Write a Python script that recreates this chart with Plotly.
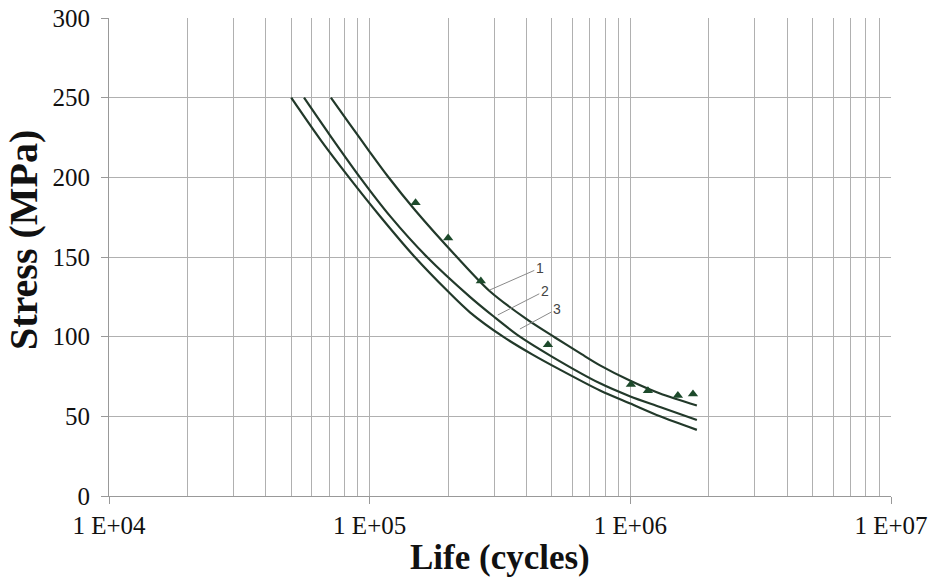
import plotly.graph_objects as go
import math

# Curve 1 (upper)
c1_x = [71000, 84000, 100000, 117500, 150000, 216000, 289000, 400000, 514000, 650000, 765000, 1000000, 1300000, 1800000]
c1_y = [250, 233.3, 216, 200.5, 179, 150, 128.5, 111, 99.5, 89, 82, 72.3, 64.3, 56.8]
# Curve 2 (middle)
c2_x = [56000, 70000, 91800, 120000, 166000, 242500, 300000, 377000, 500000, 765000, 1000000, 1300000, 1800000]
c2_y = [250, 227, 200, 175.5, 150, 125, 112.5, 100, 87.5, 70.7, 62.5, 55.9, 47.7]
# Curve 3 (lower)
c3_x = [50000, 65000, 83300, 110000, 149000, 200000, 242500, 325000, 420000, 537000, 765000, 1000000, 1300000, 1800000]
c3_y = [250, 223.2, 200, 175.3, 150, 128.3, 115.3, 100, 88.9, 79.3, 66.2, 58, 50, 41.5]
# Test points
pts_x = [150000, 200000, 267000, 483000, 1005000, 1168000, 1522000, 1739000]
pts_y = [184, 162, 135, 95, 70, 66, 63, 64]

x_tickvals = [1e4, 1e5, 1e6, 1e7]
x_ticktext = ["1 E+04", "1 E+05", "1 E+06", "1 E+07"]
y_tickvals = [0, 50, 100, 150, 200, 250, 300]

# curve label anchors (point on curve, label text)
lab_x = [289000, 310000, 377000]
lab_y = [129.3, 113.6, 104.8]
lab_t = ["1", "2", "3"]

minor_vals = [m * 10 ** e for e in (4, 5, 6) for m in range(2, 10)]

line_col = "#22392a"
fig = go.Figure()
for xs, ys in ((c1_x, c1_y), (c2_x, c2_y), (c3_x, c3_y)):
    fig.add_trace(go.Scatter(x=xs, y=ys, mode="lines",
                             line=dict(color=line_col, width=2.2, shape="spline", smoothing=0.8),
                             showlegend=False, hoverinfo="skip"))
fig.add_trace(go.Scatter(x=pts_x, y=pts_y, mode="markers",
                         marker=dict(symbol="triangle-up", size=9, color="#1d4a2b"), showlegend=False))

offs = [(50, -22), (47, -24), (37, -20)]
for xv, yv, t, (ax, ay) in zip(lab_x, lab_y, lab_t, offs):
    fig.add_annotation(x=math.log10(xv), y=yv, text=t, showarrow=True, arrowhead=0, arrowwidth=1,
                       arrowcolor="#8a8a8a", ax=ax, ay=ay,
                       font=dict(family="Liberation Sans", size=14, color="#444444"))

# axis titles
fig.add_annotation(xref="paper", yref="paper", x=0.5, y=-0.1297, text="<b>Life (cycles)</b>",
                   showarrow=False, xanchor="center", yanchor="middle",
                   font=dict(family="Liberation Serif", size=35, color="#111111"))
fig.add_annotation(xref="paper", yref="paper", x=-0.1087, y=0.5356, text="<b>Stress (MPa)</b>",
                   showarrow=False, xanchor="center", yanchor="middle", textangle=-90,
                   font=dict(family="Liberation Serif", size=40, color="#111111"))

grid = "#b0b0b0"
fig.update_layout(
    width=946, height=579,
    margin=dict(l=109, r=55, t=18, b=83),
    paper_bgcolor="white", plot_bgcolor="white",
    font=dict(family="Liberation Serif", color="#111111"),
    xaxis=dict(type="log", range=[4, 7], tickmode="array", tickvals=x_tickvals, ticktext=x_ticktext,
               tickfont=dict(size=25), ticks="outside", ticklen=7, tickcolor="#999999",
               showgrid=True, gridcolor=grid, gridwidth=1, automargin=False,
               minor=dict(tickmode="array", tickvals=minor_vals, showgrid=True, gridcolor=grid, gridwidth=1, ticks=""),
               showline=True, linecolor="#999999", linewidth=1, zeroline=False),
    yaxis=dict(range=[0, 300], tickmode="array", tickvals=y_tickvals, tickfont=dict(size=25),
               ticks="outside", ticklen=7, tickcolor="#999999", ticklabelstandoff=6,
               showgrid=True, gridcolor=grid, gridwidth=1, automargin=False,
               showline=True, linecolor="#999999", linewidth=1, zeroline=False),
)
fig.write_html("out.html", config={"displayModeBar": False},
               post_script="document.body.style.margin='0px';document.body.style.overflow='hidden';")
